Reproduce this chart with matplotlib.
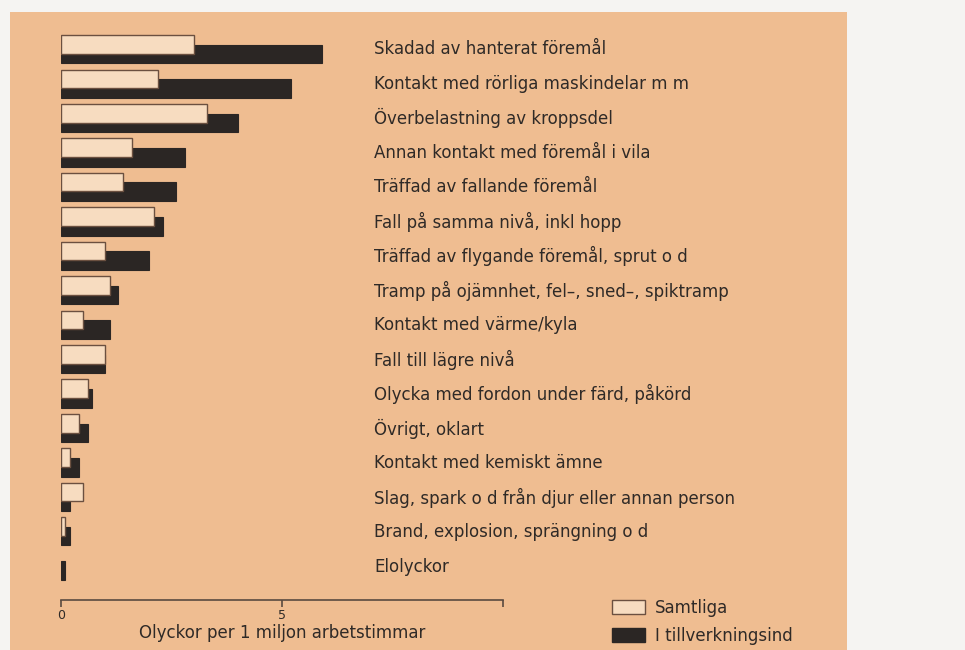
import numpy as np
import matplotlib.pyplot as plt
from matplotlib.patches import Rectangle, Patch

# Olyckstyper och värden (olyckor per 1 miljon arbetstimmar)
kategorier = [
    "Skadad av hanterat föremål",
    "Kontakt med rörliga maskindelar m m",
    "Överbelastning av kroppsdel",
    "Annan kontakt med föremål i vila",
    "Träffad av fallande föremål",
    "Fall på samma nivå, inkl hopp",
    "Träffad av flygande föremål, sprut o d",
    "Tramp på ojämnhet, fel–, sned–, spiktramp",
    "Kontakt med värme/kyla",
    "Fall till lägre nivå",
    "Olycka med fordon under färd, påkörd",
    "Övrigt, oklart",
    "Kontakt med kemiskt ämne",
    "Slag, spark o d från djur eller annan person",
    "Brand, explosion, sprängning o d",
    "Elolyckor",
]
samtliga = [3.0, 2.2, 3.3, 1.6, 1.4, 2.1, 1.0, 1.1, 0.5, 1.0, 0.6, 0.4, 0.2, 0.5, 0.1, 0.0]
tillverkning = [5.9, 5.2, 4.0, 2.8, 2.6, 2.3, 2.0, 1.3, 1.1, 1.0, 0.7, 0.6, 0.4, 0.2, 0.2, 0.1]

peach = "#efbd91"
ink = "#2b2624"
ljus = "#f7dcc0"
text_c = "#2f2a27"
axis_c = "#5a4a40"

W, H = 965, 650
fig = plt.figure(figsize=(W / 100, H / 100), dpi=100, facecolor="#f5f4f2")
bg = Rectangle((10 / W, 0), 837 / W, 1 - 12 / H, transform=fig.transFigure,
               facecolor=peach, edgecolor="none", zorder=-10)
fig.add_artist(bg)

ax = fig.add_axes([61 / W, 1 - 583 / H, 442 / W, (583 - 32) / H])
ax.set_facecolor("none")
y = np.arange(len(kategorier))
ax.barh(y + 0.14, tillverkning, height=0.54, color=ink, edgecolor=ink, lw=0.8, zorder=2)
ax.barh(y - 0.14, samtliga, height=0.54, color=ljus, edgecolor="#6b5040",
        lw=[1.0 if v > 0 else 0 for v in samtliga], zorder=3)

ax.set_xlim(0, 10)
ax.set_ylim(len(kategorier) - 0.5, -0.5)
for s in ["top", "right", "left"]:
    ax.spines[s].set_visible(False)
ax.spines["bottom"].set_position(("outward", 12))
ax.spines["bottom"].set_color(axis_c)
ax.spines["bottom"].set_linewidth(1.2)
ax.set_yticks([])
ax.set_xticks([0, 5, 10])
ax.set_xticklabels(["0", "5", ""], fontsize=9, color=text_c)
ax.tick_params(axis="x", direction="out", length=5, width=1.2, color=axis_c, pad=2)
ax.set_xlabel("Olyckor per 1 miljon arbetstimmar", fontsize=12, color=text_c, labelpad=1)

for i, k in enumerate(kategorier):
    ax.text(374 / W, 1 - (49.5 + i * 34.47) / H, k, transform=fig.transFigure,
            fontsize=12, color=text_c, va="center", ha="left")

handles = [Patch(facecolor=ljus, edgecolor="#6b5040", label="Samtliga"),
           Patch(facecolor=ink, edgecolor=ink, label="I tillverkningsind")]
fig.legend(handles=handles, loc="upper left", bbox_to_anchor=(597 / W, 1 - 584 / H),
           frameon=False, fontsize=12, handlelength=2.0, handleheight=0.9,
           labelspacing=0.6, handletextpad=0.6, labelcolor=text_c)

fig.savefig("out.png", dpi=100, facecolor=fig.get_facecolor())
